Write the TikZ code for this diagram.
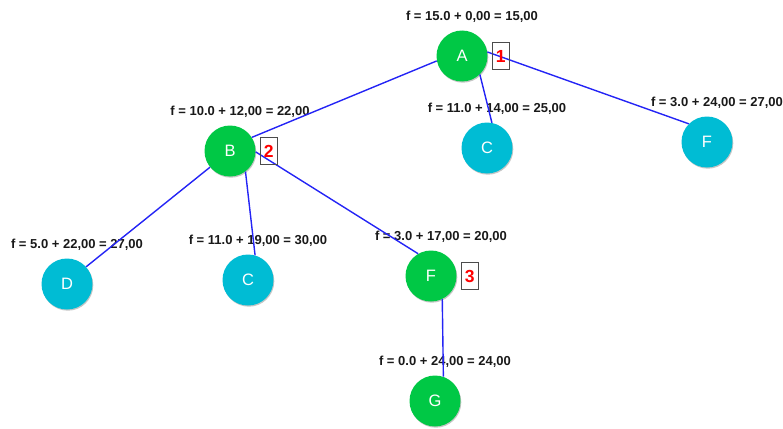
\documentclass[tikz,border=0pt]{standalone}
\usepackage{fontspec}
\setmainfont{Liberation Sans}
\usetikzlibrary{positioning,shadows}
\definecolor{expgreen}{HTML}{00C845}
\definecolor{leafcyan}{HTML}{00BCD4}
\definecolor{edgeblue}{HTML}{2424F5}
\tikzset{
  state/.style={circle, minimum size=51pt, inner sep=0pt, text=white,
    font=\fontsize{16.5}{16.5}\selectfont,
    drop shadow={opacity=0.45, shadow xshift=0.8pt, shadow yshift=-1.2pt}},
  expanded/.style={state, fill=expgreen},
  leaf/.style={state, fill=leafcyan},
  cost/.style={inner sep=0pt, text=black!90, font=\bfseries\fontsize{13}{13}\selectfont},
  order/.style={draw=black!70, line width=1.1pt, minimum width=17pt, minimum height=27pt,
    inner sep=0pt, text=red, font=\bfseries\fontsize{17.5}{17.5}\selectfont},
  tree/.style={edgeblue, line width=1.4pt}
}
\begin{document}
\begin{tikzpicture}[x=1pt,y=-1pt]
	\useasboundingbox (0,0) rectangle (783,428);
	% search tree
	\node[expanded] (A) at (462,56) {A};
	\node[expanded] (B) at (230,151) {B};
	\node[leaf] (C1) at (487,148) {C};
	\node[leaf] (F1) at (707,142) {F};
	\node[leaf] (D) at (67,284) {D};
	\node[leaf] (C2) at (248,280) {C};
	\node[expanded] (F2) at (431,276) {F};
	\node[expanded] (G) at (435,401) {G};
	% f = g + h
	\foreach \n/\t in {A/{f = 15.0 + 0,00 = 15,00}, B/{f = 10.0 + 12,00 = 22,00},
	    C1/{f = 11.0 + 14,00 = 25,00}, F1/{f = 3.0 + 24,00 = 27,00},
	    D/{f = 5.0 + 22,00 = 27,00}, C2/{f = 11.0 + 19,00 = 30,00},
	    F2/{f = 3.0 + 17,00 = 20,00}, G/{f = 0.0 + 24,00 = 24,00}}
	    \node[cost] (f\n) at ([shift={(10,-39)}]\n.center) {\t};
	\draw[tree] (A.-46) -- (C1.79);
	\draw[tree] (A.9) -- (F1.135);
	\draw[tree] (A.191) -- (B.32);
	\draw[tree] (B.-141) -- (D.42);
	\draw[tree] (B.-53) -- (C2.74);
	\draw[tree] (B.-2) -- (F2.120);
	\draw[tree] (F2.-64) -- (G.71);
	% expansion order
	\node[order, right=4pt of A] (o1) {1};
	\node[order, right=4pt of B] (o2) {2};
	\node[order, right=4pt of F2] (o3) {3};
\end{tikzpicture}
\end{document}
